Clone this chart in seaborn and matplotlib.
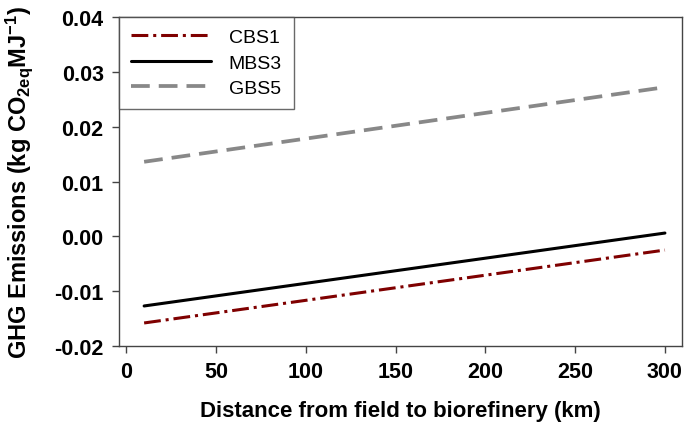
import matplotlib
matplotlib.use("Agg")
import matplotlib.pyplot as plt
import seaborn as sns
import pandas as pd

# Data
distance = [10, 300]
cbs1 = [-0.0158, -0.0025]
mbs3 = [-0.0127, 0.0006]
gbs5 = [0.0136, 0.0272]
series_names = ["CBS1", "MBS3", "GBS5"]
x_ticks = [0, 50, 100, 150, 200, 250, 300]
y_ticks = [-0.02, -0.01, 0.00, 0.01, 0.02, 0.03, 0.04]

sns.set_style("ticks")
plt.rcParams["font.family"] = ["Liberation Sans", "DejaVu Sans"]
plt.rcParams["mathtext.fontset"] = "custom"
plt.rcParams["mathtext.rm"] = "Liberation Sans:bold"
plt.rcParams["mathtext.bf"] = "Liberation Sans:bold"
plt.rcParams["mathtext.it"] = "Liberation Sans:bold"
plt.rcParams["text.color"] = "black"
plt.rcParams["axes.labelcolor"] = "black"
plt.rcParams["xtick.labelcolor"] = "black"
plt.rcParams["ytick.labelcolor"] = "black"

df = pd.DataFrame({
    "distance": distance * 3,
    "value": cbs1 + mbs3 + gbs5,
    "series": [series_names[0]] * 2 + [series_names[1]] * 2 + [series_names[2]] * 2,
})

fig = plt.figure(figsize=(6.85, 4.31), dpi=100)
ax = fig.add_axes([0.1737, 0.1949, 0.8219, 0.7633])

styles = {
    "CBS1": dict(color="#7f0000", linewidth=2.2, dashes=(5.5, 1.6, 1.0, 1.6)),
    "MBS3": dict(color="black", linewidth=2.2),
    "GBS5": dict(color="#888888", linewidth=2.7, dashes=(5, 2.4)),
}
for name in series_names:
    sub = df[df["series"] == name]
    st = styles[name]
    line_kw = dict(color=st["color"], linewidth=st["linewidth"], label=name)
    sns.lineplot(data=sub, x="distance", y="value", ax=ax, **line_kw)
    if "dashes" in st:
        ax.lines[-1].set_dashes(st["dashes"])

ax.set_xlim(-4, 309.5)
ax.set_ylim(-0.02, 0.04)
ax.set_xticks(x_ticks)
ax.set_yticks(y_ticks)
ax.set_yticklabels([f"{v:.2f}" for v in y_ticks])
ax.tick_params(axis="both", direction="out", length=5, width=1, color="#444444",
               labelsize=15.5, pad=6)
for lab in ax.get_xticklabels() + ax.get_yticklabels():
    lab.set_fontweight("bold")

for sp in ax.spines.values():
    sp.set_visible(True)
    sp.set_color("#444444")
    sp.set_linewidth(1.0)

ax.set_xlabel("Distance from field to biorefinery (km)", fontsize=16,
              fontweight="bold", labelpad=13)
ax.set_ylabel("GHG Emissions (kg CO$_{\\mathbf{2eq}}$MJ$^{\\mathbf{-1}}$)",
              fontsize=17, fontweight="bold")
ax.yaxis.set_label_coords(-0.15, 0.5)

leg = ax.legend(loc="upper left", bbox_to_anchor=(0, 1), borderaxespad=0,
                frameon=True, fancybox=False, fontsize=14, handlelength=4.15,
                handletextpad=0.9, borderpad=0.6, labelspacing=0.4)
leg.get_frame().set_edgecolor("#444444")
leg.get_frame().set_linewidth(1.0)

fig.savefig("out.png", dpi=100)
